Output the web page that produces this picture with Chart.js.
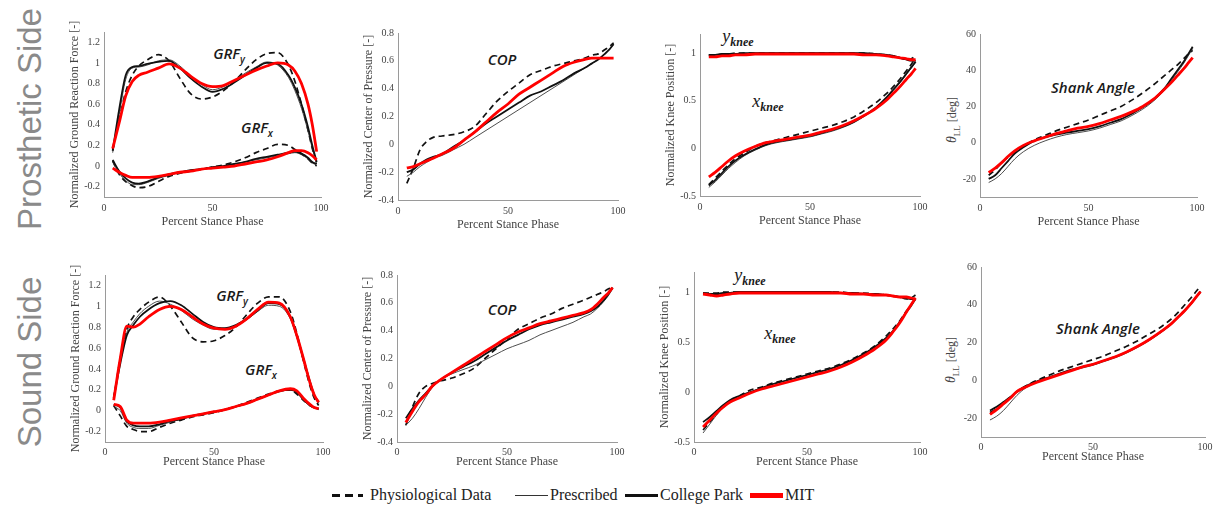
<!DOCTYPE html>
<html>
<head>
<meta charset="utf-8">
<script src="https://cdn.jsdelivr.net/npm/chart.js@4.4.1/dist/chart.umd.min.js"></script>
<style>
  body { margin: 0; background: #fff; }
  #fig { position: relative; width: 1224px; height: 510px; overflow: hidden; font-family: "Liberation Serif", serif; }
  #fig canvas { position: absolute; }
  .row { position: absolute; color: #8a8a8a; font: 33px "Liberation Sans", Arial, sans-serif;
         transform: translate(-50%, -50%) rotate(-90deg); white-space: nowrap; }
  .note { position: absolute; transform: translate(-50%, -50%); white-space: nowrap; color: #1a1a1a; line-height: 1; }
  .sans { font: italic 600 15px "Open Sans", sans-serif; }
  .sans sub { font-size: 10px; }
  .math { font: italic 18px "Liberation Serif", serif; }
  .math sub { font-size: 12px; font-weight: bold; }
  .theta { position: absolute; transform: translate(-50%, -50%) rotate(-90deg); white-space: nowrap;
           color: #444; font: 12px "Liberation Serif", serif; }
  .theta i { font-size: 14px; }
  .theta sub { font-size: 9px; }
  .leg { position: absolute; top: 486px; font: 16px "Liberation Serif", serif; color: #222; white-space: nowrap; }
  .sample { position: absolute; }
</style>
</head>
<body>
<div id="fig">
  <div class="row" style="left:30px; top:119px">Prosthetic Side</div>
  <div class="row" style="left:30px; top:362px">Sound Side</div>

  <div class="note sans" style="left:229px; top:54px">GRF<sub>y</sub></div>
  <div class="note sans" style="left:257px; top:128px">GRF<sub>x</sub></div>
  <div class="note sans" style="left:502px; top:59px">COP</div>
  <div class="note math" style="left:738px; top:38px">y<sub>knee</sub></div>
  <div class="note math" style="left:768px; top:103px">x<sub>knee</sub></div>
  <div class="note sans" style="left:1093px; top:87px">Shank Angle</div>
  <div class="theta" style="left:953px; top:120px"><i>θ</i><sub>LL</sub> [deg]</div>

  <div class="note sans" style="left:232px; top:296px">GRF<sub>y</sub></div>
  <div class="note sans" style="left:261px; top:370px">GRF<sub>x</sub></div>
  <div class="note sans" style="left:502px; top:309px">COP</div>
  <div class="note math" style="left:750px; top:277px">y<sub>knee</sub></div>
  <div class="note math" style="left:780px; top:335px">x<sub>knee</sub></div>
  <div class="note sans" style="left:1098px; top:328px">Shank Angle</div>
  <div class="theta" style="left:952px; top:360px"><i>θ</i><sub>LL</sub> [deg]</div>

  <div class="sample" style="left:332px; top:494px; width:31px; height:3px; background:repeating-linear-gradient(to right,#111 0 8px,transparent 8px 13px)"></div>
  <div class="leg" style="left:370px">Physiological Data</div>
  <div class="sample" style="left:515px; top:495px; width:33px; height:1px; background:#333"></div>
  <div class="leg" style="left:550px">Prescribed</div>
  <div class="sample" style="left:625px; top:494px; width:33px; height:3px; background:#111"></div>
  <div class="leg" style="left:660px">College Park</div>
  <div class="sample" style="left:750px; top:493px; width:33px; height:5px; background:#f00"></div>
  <div class="leg" style="left:785px">MIT</div>
</div>

<script>
// percent stance phase sample points, shared by all curves
const pct = [4, 7, 10, 13, 16, 20, 25, 30, 35, 40, 45, 50, 55, 60, 65, 70, 75, 80, 85, 88, 91, 94, 96, 98];

// tick labels
const pctTicks   = [0, 50, 100];
const grfTicks   = [-0.2, 0, 0.2, 0.4, 0.6, 0.8, 1, 1.2];
const copTicks   = [-0.4, -0.2, 0, 0.2, 0.4, 0.6, 0.8];
const kneeTicks  = [-0.5, 0, 0.5, 1];
const shankTicks = [-20, 0, 20, 40, 60];

// ── Prosthetic side ──
const prosGrfyPhys = [0.15,0.45,0.72,0.88,0.97,1.03,1.08,1.02,0.85,0.70,0.65,0.67,0.73,0.82,0.93,1.03,1.09,1.10,0.98,0.82,0.60,0.35,0.17,0.03];
const prosGrfyPres = [0.13,0.50,0.84,0.95,0.96,0.98,1.02,1.03,0.97,0.87,0.79,0.74,0.77,0.83,0.90,0.96,1.01,0.98,0.86,0.73,0.56,0.34,0.17,0.02];
const prosGrfyCP   = [0.15,0.55,0.88,0.96,0.97,0.99,1.01,1.02,0.95,0.85,0.77,0.72,0.75,0.81,0.88,0.95,1.00,0.99,0.88,0.76,0.60,0.38,0.20,0.04];
const prosGrfyMIT  = [0.17,0.42,0.68,0.82,0.88,0.91,0.95,0.99,0.95,0.87,0.80,0.77,0.78,0.83,0.88,0.93,0.97,1.00,0.98,0.92,0.80,0.60,0.40,0.14];

const prosGrfxPhys = [0.05,-0.08,-0.15,-0.19,-0.21,-0.20,-0.15,-0.10,-0.07,-0.05,-0.03,-0.01,0.01,0.04,0.08,0.13,0.17,0.21,0.20,0.16,0.12,0.07,0.03,0.00];
const prosGrfxPres = [0.04,-0.07,-0.14,-0.18,-0.18,-0.16,-0.12,-0.09,-0.06,-0.04,-0.03,-0.01,0.00,0.02,0.04,0.06,0.08,0.10,0.12,0.13,0.11,0.07,0.03,0.01];
const prosGrfxCP   = [0.06,-0.05,-0.12,-0.16,-0.17,-0.15,-0.11,-0.08,-0.06,-0.04,-0.03,-0.01,0.00,0.02,0.04,0.07,0.09,0.11,0.13,0.14,0.12,0.08,0.04,0.02];
const prosGrfxMIT  = [-0.02,-0.06,-0.09,-0.11,-0.11,-0.11,-0.10,-0.08,-0.06,-0.05,-0.03,-0.02,-0.01,0.00,0.02,0.04,0.06,0.09,0.13,0.15,0.15,0.13,0.10,0.06];

const prosCopPhys = [-0.28,-0.17,-0.04,0.02,0.05,0.06,0.07,0.09,0.13,0.22,0.31,0.38,0.44,0.50,0.53,0.56,0.58,0.60,0.62,0.64,0.65,0.68,0.70,0.73];
const prosCopPres = [-0.23,-0.20,-0.16,-0.13,-0.10,-0.08,-0.04,0.00,0.05,0.10,0.15,0.20,0.25,0.30,0.35,0.40,0.45,0.50,0.55,0.58,0.61,0.65,0.68,0.72];
const prosCopCP   = [-0.20,-0.18,-0.14,-0.11,-0.09,-0.07,-0.02,0.03,0.09,0.15,0.20,0.25,0.30,0.35,0.38,0.42,0.46,0.51,0.55,0.58,0.61,0.65,0.68,0.72];
const prosCopMIT  = [-0.17,-0.16,-0.14,-0.12,-0.10,-0.07,-0.03,0.03,0.09,0.16,0.23,0.29,0.36,0.41,0.46,0.51,0.56,0.59,0.61,0.62,0.62,0.62,0.62,0.62];

const prosKneeyPhys = [0.98,0.98,0.99,0.99,1.00,1.00,1.00,1.00,1.00,1.00,1.00,1.00,1.00,1.00,1.00,1.00,1.00,0.99,0.98,0.97,0.95,0.93,0.94,0.97];
const prosKneeyPres = [0.97,0.98,0.98,0.99,0.99,0.99,1.00,1.00,1.00,1.00,1.00,1.00,1.00,1.00,1.00,1.00,0.99,0.99,0.98,0.96,0.95,0.93,0.92,0.92];
const prosKneeyCP   = [0.98,0.98,0.99,0.99,0.99,1.00,1.00,1.00,1.00,1.00,1.00,1.00,1.00,1.00,1.00,1.00,1.00,0.99,0.98,0.97,0.95,0.93,0.92,0.92];
const prosKneeyMIT  = [0.96,0.96,0.97,0.97,0.98,0.98,0.99,0.99,0.99,0.99,0.99,0.99,0.99,0.99,0.99,0.99,0.98,0.98,0.97,0.96,0.95,0.94,0.93,0.93];

const prosKneexPhys = [-0.38,-0.31,-0.24,-0.17,-0.11,-0.05,0.02,0.06,0.09,0.12,0.15,0.18,0.21,0.24,0.28,0.33,0.40,0.48,0.58,0.65,0.73,0.82,0.88,0.95];
const prosKneexPres = [-0.41,-0.35,-0.28,-0.21,-0.15,-0.08,-0.02,0.03,0.06,0.08,0.10,0.12,0.15,0.18,0.22,0.27,0.34,0.42,0.53,0.61,0.69,0.78,0.84,0.90];
const prosKneexCP   = [-0.39,-0.33,-0.26,-0.19,-0.13,-0.07,-0.01,0.04,0.07,0.09,0.11,0.13,0.16,0.19,0.23,0.28,0.35,0.43,0.54,0.62,0.70,0.79,0.85,0.91];
const prosKneexMIT  = [-0.30,-0.25,-0.19,-0.13,-0.08,-0.03,0.02,0.06,0.08,0.10,0.12,0.14,0.17,0.20,0.24,0.29,0.35,0.42,0.51,0.58,0.65,0.73,0.78,0.84];

const prosShankPhys = [-18,-15,-11,-8,-5,-2,1.5,4,6.5,8.5,10.5,12.5,15,17.5,20,23.5,27.5,32,37,40,43,46.5,49,51];
const prosShankPres = [-22,-20,-17,-13,-9,-5,-1.5,1,3,4.5,5.5,6.5,8,10,12,15,18.5,23,29,34,39,44,48,52];
const prosShankCP   = [-20,-18,-14,-10,-6,-2.5,1,3,4.5,5.5,6.5,7.5,9,11,13,16,19.5,24,30,35,40,45,49,53];
const prosShankMIT  = [-16.5,-14,-11,-7.5,-4.5,-1.5,1,3,5,6.5,8,9,10.5,12.5,14.5,17,20,24,29.5,33,37,41,44,47];

// ── Sound side ──
const soundGrfyPhys = [0.12,0.50,0.78,0.90,0.97,1.04,1.09,1.00,0.85,0.70,0.66,0.67,0.72,0.80,0.92,1.03,1.09,1.09,0.95,0.74,0.48,0.24,0.12,0.05];
const soundGrfyPres = [0.12,0.48,0.75,0.85,0.93,1.00,1.05,1.02,0.96,0.88,0.82,0.78,0.78,0.81,0.87,0.95,1.01,1.00,0.88,0.70,0.48,0.27,0.14,0.07];
const soundGrfyCP   = [0.12,0.45,0.72,0.82,0.90,0.97,1.03,1.05,1.01,0.93,0.85,0.80,0.79,0.82,0.88,0.96,1.03,1.02,0.90,0.72,0.50,0.28,0.15,0.08];
const soundGrfyMIT  = [0.10,0.50,0.81,0.80,0.83,0.90,0.97,1.00,0.97,0.90,0.83,0.79,0.78,0.81,0.88,0.97,1.04,1.03,0.90,0.72,0.50,0.27,0.15,0.08];

const soundGrfxPhys = [0.05,-0.05,-0.15,-0.18,-0.20,-0.20,-0.16,-0.12,-0.09,-0.06,-0.04,-0.02,0.01,0.04,0.08,0.12,0.16,0.19,0.20,0.16,0.10,0.05,0.03,0.02];
const soundGrfxPres = [0.04,0.00,-0.12,-0.16,-0.17,-0.17,-0.14,-0.11,-0.08,-0.05,-0.03,-0.01,0.01,0.04,0.07,0.11,0.15,0.18,0.20,0.17,0.10,0.05,0.03,0.01];
const soundGrfxCP   = [0.06,0.03,-0.10,-0.14,-0.15,-0.15,-0.13,-0.10,-0.08,-0.05,-0.03,-0.01,0.01,0.04,0.07,0.11,0.15,0.19,0.20,0.18,0.11,0.05,0.03,0.02];
const soundGrfxMIT  = [0.06,0.04,-0.09,-0.12,-0.12,-0.12,-0.11,-0.09,-0.07,-0.05,-0.03,-0.01,0.01,0.04,0.07,0.11,0.15,0.19,0.21,0.19,0.12,0.06,0.03,0.02];

const soundCopPhys = [-0.28,-0.15,-0.05,0.00,0.02,0.04,0.06,0.09,0.13,0.20,0.27,0.34,0.41,0.45,0.49,0.52,0.56,0.59,0.62,0.64,0.66,0.68,0.70,0.71];
const soundCopPres = [-0.28,-0.23,-0.16,-0.08,-0.01,0.05,0.09,0.12,0.15,0.19,0.23,0.27,0.30,0.33,0.37,0.40,0.43,0.46,0.50,0.52,0.56,0.61,0.65,0.70];
const soundCopCP   = [-0.23,-0.16,-0.10,-0.05,0.00,0.05,0.10,0.14,0.18,0.23,0.28,0.33,0.37,0.41,0.44,0.46,0.48,0.50,0.52,0.54,0.57,0.62,0.66,0.71];
const soundCopMIT  = [-0.26,-0.18,-0.11,-0.06,0.00,0.05,0.10,0.15,0.20,0.25,0.30,0.35,0.39,0.42,0.45,0.47,0.49,0.51,0.53,0.55,0.59,0.64,0.67,0.71];

const soundKneeyPhys = [0.99,0.99,0.99,1.00,1.00,1.00,1.00,1.00,1.00,1.00,1.00,1.00,1.00,1.00,1.00,0.99,0.99,0.98,0.97,0.96,0.95,0.93,0.94,0.97];
const soundKneeyPres = [0.98,0.98,0.98,0.99,0.99,0.99,1.00,1.00,1.00,1.00,1.00,1.00,1.00,1.00,0.99,0.99,0.98,0.98,0.97,0.96,0.95,0.94,0.93,0.93];
const soundKneeyCP   = [0.99,0.98,0.98,0.99,0.99,1.00,1.00,1.00,1.00,1.00,1.00,1.00,1.00,1.00,0.99,0.99,0.98,0.98,0.97,0.96,0.95,0.94,0.93,0.93];
const soundKneeyMIT  = [0.98,0.97,0.96,0.97,0.98,0.99,0.99,0.99,0.99,0.99,0.99,0.99,0.99,0.99,0.99,0.98,0.98,0.97,0.97,0.96,0.95,0.95,0.94,0.93];

const soundKneexPhys = [-0.38,-0.30,-0.22,-0.15,-0.09,-0.04,0.02,0.05,0.09,0.12,0.15,0.18,0.21,0.24,0.28,0.33,0.39,0.46,0.56,0.63,0.71,0.81,0.87,0.94];
const soundKneexPres = [-0.41,-0.32,-0.23,-0.15,-0.09,-0.04,0.00,0.04,0.08,0.11,0.14,0.17,0.20,0.23,0.27,0.32,0.38,0.45,0.54,0.61,0.70,0.80,0.86,0.93];
const soundKneexCP   = [-0.30,-0.25,-0.19,-0.13,-0.08,-0.04,0.00,0.04,0.08,0.11,0.14,0.17,0.20,0.23,0.27,0.32,0.38,0.45,0.54,0.61,0.70,0.80,0.86,0.93];
const soundKneexMIT  = [-0.35,-0.28,-0.21,-0.15,-0.10,-0.06,-0.01,0.03,0.06,0.09,0.12,0.15,0.18,0.21,0.25,0.30,0.36,0.43,0.52,0.60,0.69,0.80,0.87,0.94];

const soundShankPhys = [-17,-15,-12,-9,-6,-3,0,2.5,5,7,9,11,13,15.5,18,21,24.5,28,32.5,36,40,44,47,50];
const soundShankPres = [-21,-19,-16,-12,-8,-4,-1,1,3,5,6.5,8,10,12,14.5,17.5,21,25,29.5,33,36.5,40.5,43.5,46.5];
const soundShankCP   = [-16,-14,-11.5,-9,-6,-3,-0.5,1.5,3.5,5.5,7,8.5,10.5,12.5,15,18,21.5,25.5,30,33.5,37,41,44,47];
const soundShankMIT  = [-18,-15.5,-12.5,-9.5,-6,-3.5,-1,1,3,5,7,8.5,10.5,12.5,15,18,21.5,25.5,30,33.5,37,41,44,47];

/* ── line styles for the four sources ── */
const SERIES = [
    { key: 'phys', color: '#111',    width: 1.7, dash: [6, 4], order: 3 },
    { key: 'pres', color: '#3a3a3a', width: 0.9, dash: [],     order: 2 },
    { key: 'cp',   color: '#111',    width: 1.8, dash: [],     order: 1 },
    { key: 'mit',  color: '#ff0000', width: 2.8, dash: [],     order: 0 },
];

const FONT = "'Liberation Serif', 'Times New Roman', serif";
const Y_W = 36, PAD_T = 16, PAD_R = 12;

// plot area in page px [left, top, right, bottom], x-axis band height, tick padding
const panels = [
    { area: [104, 32, 321, 197], xh: 32, tp: 5, min: -0.3, max: 1.3, ticks: grfTicks,
      title: 'Normalized Ground Reaction Force [-]',
      curves: [[prosGrfyPhys, prosGrfyPres, prosGrfyCP, prosGrfyMIT], [prosGrfxPhys, prosGrfxPres, prosGrfxCP, prosGrfxMIT]] },
    { area: [398, 33, 618, 200], xh: 32, tp: 5, min: -0.4, max: 0.8, ticks: copTicks,
      title: 'Normalized Center of Pressure [-]',
      curves: [[prosCopPhys, prosCopPres, prosCopCP, prosCopMIT]] },
    { area: [700, 34, 920, 196], xh: 32, tp: 5, min: -0.5, max: 1.2, ticks: kneeTicks,
      title: 'Normalized Knee Position [-]',
      curves: [[prosKneeyPhys, prosKneeyPres, prosKneeyCP, prosKneeyMIT], [prosKneexPhys, prosKneexPres, prosKneexCP, prosKneexMIT]] },
    { area: [980, 34, 1197, 197], xh: 32, tp: 5, min: -30, max: 60, ticks: shankTicks,
      title: '',
      curves: [[prosShankPhys, prosShankPres, prosShankCP, prosShankMIT]] },

    { area: [105, 275, 323, 442], xh: 27, tp: 4, min: -0.3, max: 1.3, ticks: grfTicks,
      title: 'Normalized Ground Reaction Force [-]',
      curves: [[soundGrfyPhys, soundGrfyPres, soundGrfyCP, soundGrfyMIT], [soundGrfxPhys, soundGrfxPres, soundGrfxCP, soundGrfxMIT]] },
    { area: [397, 275, 617, 442], xh: 27, tp: 4, min: -0.4, max: 0.8, ticks: copTicks,
      title: 'Normalized Center of Pressure [-]',
      curves: [[soundCopPhys, soundCopPres, soundCopCP, soundCopMIT]] },
    { area: [694, 272, 920, 442], xh: 27, tp: 4, min: -0.5, max: 1.2, ticks: kneeTicks,
      title: 'Normalized Knee Position [-]',
      curves: [[soundKneeyPhys, soundKneeyPres, soundKneeyCP, soundKneeyMIT], [soundKneexPhys, soundKneexPres, soundKneexCP, soundKneexMIT]] },
    { area: [981, 267, 1205, 437], xh: 27, tp: 4, min: -30, max: 60, ticks: shankTicks,
      title: '',
      curves: [[soundShankPhys, soundShankPres, soundShankCP, soundShankMIT]] },
];

const fig = document.getElementById('fig');

function buildDatasets(curves) {
    const sets = [];
    curves.forEach(group => {
        group.forEach((vals, i) => {
            const s = SERIES[i];
            sets.push({
                label: s.key,
                data: pct.map((x, k) => ({ x, y: vals[k] })),
                borderColor: s.color,
                borderWidth: s.width,
                borderDash: s.dash,
                order: s.order,
                pointRadius: 0,
                fill: false,
                cubicInterpolationMode: 'monotone',
            });
        });
    });
    return sets;
}

panels.forEach(p => {
    const [L, T, R, B] = p.area;
    const left = L - Y_W, top = T - PAD_T;
    const canvas = document.createElement('canvas');
    canvas.width  = R - left + PAD_R;
    canvas.height = B - top + p.xh;
    canvas.style.left = left + 'px';
    canvas.style.top  = top + 'px';
    fig.appendChild(canvas);

    new Chart(canvas, {
        type: 'line',
        data: { datasets: buildDatasets(p.curves) },
        options: {
            responsive: false,
            animation: false,
            layout: { padding: { top: PAD_T, right: PAD_R, left: 0, bottom: 0 } },
            plugins: { legend: { display: false }, tooltip: { enabled: false } },
            scales: {
                x: {
                    type: 'linear', min: 0, max: 100,
                    afterBuildTicks: s => { s.ticks = pctTicks.map(v => ({ value: v })); },
                    afterFit: s => { s.height = p.xh; s.paddingLeft = 0; s.paddingRight = 0; },
                    grid: { display: false, drawTicks: false },
                    border: { color: '#9a9a9a', width: 1 },
                    ticks: { color: '#444', font: { family: FONT, size: 10 }, padding: p.tp,
                             maxRotation: 0, autoSkip: false, callback: v => String(v) },
                    title: { display: true, text: 'Percent Stance Phase', color: '#444',
                             font: { family: FONT, size: 12 }, padding: 0 },
                },
                y: {
                    type: 'linear', min: p.min, max: p.max,
                    afterBuildTicks: s => { s.ticks = p.ticks.map(v => ({ value: v })); },
                    afterFit: s => { s.width = Y_W; s.paddingTop = 0; s.paddingBottom = 0; },
                    grid: { display: false, drawTicks: false },
                    border: { color: '#9a9a9a', width: 1 },
                    ticks: { color: '#444', font: { family: FONT, size: 10 }, padding: 4,
                             autoSkip: false, callback: v => String(v) },
                    title: { display: !!p.title, text: p.title, color: '#444',
                             font: { family: FONT, size: 12 }, padding: 0 },
                },
            },
        },
    });
});
</script>
</body>
</html>
